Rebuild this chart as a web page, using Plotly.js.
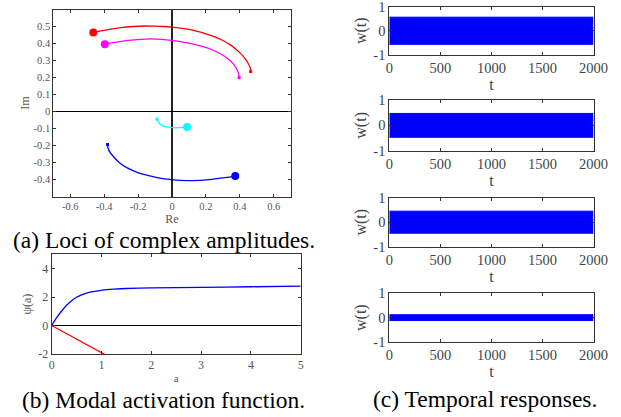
<!DOCTYPE html>
<html>
<head>
<meta charset="utf-8">
<script src="https://cdn.plot.ly/plotly-3.0.1.min.js"></script>
<style>html,body{margin:0;padding:0;background:#fff;}#chart{width:621px;height:417px;}</style>
</head>
<body>
<div id="chart"></div>
<script>
// ---- (a) Loci of complex amplitudes (first point = marker end) ----
const redRe  = [-0.464, -0.42, -0.36, -0.30, -0.23, -0.167, -0.10, -0.05, 0.00, 0.05, 0.10, 0.15, 0.20, 0.25, 0.30, 0.34, 0.377, 0.41, 0.435, 0.452, 0.462, 0.464];
const redIm  = [0.465, 0.474, 0.485, 0.494, 0.500, 0.503, 0.502, 0.500, 0.497, 0.491, 0.483, 0.471, 0.457, 0.441, 0.418, 0.395, 0.367, 0.336, 0.305, 0.278, 0.255, 0.236];
const magRe  = [-0.396, -0.35, -0.30, -0.24, -0.18, -0.128, -0.06, 0.00, 0.06, 0.12, 0.18, 0.24, 0.29, 0.33, 0.36, 0.38, 0.392, 0.396];
const magIm  = [0.396, 0.405, 0.413, 0.420, 0.425, 0.427, 0.425, 0.419, 0.410, 0.398, 0.383, 0.362, 0.337, 0.311, 0.282, 0.253, 0.226, 0.201];
const cyaRe  = [0.089, 0.065, 0.04, 0.015, -0.01, -0.035, -0.055, -0.072, -0.083, -0.089];
const cyaIm  = [-0.090, -0.092, -0.094, -0.095, -0.093, -0.089, -0.082, -0.071, -0.058, -0.043];
const bluRe  = [0.373, 0.30, 0.22, 0.124, 0.05, 0.00, -0.08, -0.167, -0.22, -0.264, -0.31, -0.341, -0.365, -0.377, -0.38];
const bluIm  = [-0.379, -0.390, -0.400, -0.406, -0.404, -0.400, -0.389, -0.369, -0.351, -0.331, -0.300, -0.270, -0.240, -0.215, -0.193];
const lociXTicks = [-0.6, -0.4, -0.2, 0, 0.2, 0.4, 0.6];
const lociXLabels = ['-0.6', '-0.4', '-0.2', '0', '0.2', '0.4', '0.6'];
const lociYTicks = [-0.4, -0.3, -0.2, -0.1, 0, 0.1, 0.2, 0.3, 0.4, 0.5];
const lociYLabels = ['-0.4', '-0.3', '-0.2', '-0.1', '0', '0.1', '0.2', '0.3', '0.4', '0.5'];

// ---- (b) Modal activation function ----
const actA    = [0, 0.1, 0.2, 0.3, 0.4, 0.5, 0.6, 0.7, 0.8, 0.9, 1.0, 1.25, 1.5, 2, 3, 4, 5];
const actPsi  = [0, 0.55, 1.02, 1.42, 1.74, 1.98, 2.15, 2.27, 2.36, 2.42, 2.47, 2.55, 2.60, 2.64, 2.68, 2.72, 2.76];
const lineA   = [0, 1.1];
const linePsi = [0, -2.1];
const actXTicks = [0, 1, 2, 3, 4, 5];
const actYTicks = [-2, 0, 2, 4];
const actYLabels = ['-2', '0', '2', '4'];

// ---- (c) Temporal responses (envelopes of the oscillation) ----
const tEnv = [0, 2000];
const upperEnv = [[0.56, 0.56], [0.47, 0.47], [0.45, 0.45], [0.12, 0.12]];
const lowerEnv = [[-0.56, -0.56], [-0.47, -0.47], [-0.45, -0.45], [-0.12, -0.12]];
const tTicks = [0, 500, 1000, 1500, 2000];
const wTicks = [-1, 0, 1];
const wLabels = ['-1', '0', '1'];

const W = 621, H = 417;
const SERIF = '"Liberation Serif", "Times New Roman", Times, serif';
function xd(a, b) { return [a / W, b / W]; }
function yd(top, bot) { return [1 - bot / H, 1 - top / H]; }

const traces = [];
function loci(re, im, color) {
  traces.push({x: re, y: im, xaxis: 'x', yaxis: 'y', mode: 'lines', line: {color: color, width: 1.3, shape: 'spline', smoothing: 0.6}, hoverinfo: 'skip'});
  traces.push({x: [re[0]], y: [im[0]], xaxis: 'x', yaxis: 'y', mode: 'markers', marker: {color: color, size: 8}, hoverinfo: 'skip'});
  traces.push({x: [re[re.length - 1]], y: [im[im.length - 1]], xaxis: 'x', yaxis: 'y', mode: 'markers', marker: {color: color, size: 3, symbol: 'square'}, hoverinfo: 'skip'});
}
loci(redRe, redIm, '#ff0000');
loci(magRe, magIm, '#ff00ff');
loci(cyaRe, cyaIm, '#00ffff');
loci(bluRe, bluIm, '#0000ff');

traces.push({x: actA, y: actPsi, xaxis: 'x2', yaxis: 'y2', mode: 'lines', line: {color: '#0000ff', width: 1.3, shape: 'spline', smoothing: 0.6}, hoverinfo: 'skip'});
traces.push({x: lineA, y: linePsi, xaxis: 'x2', yaxis: 'y2', mode: 'lines', line: {color: '#ff0000', width: 1.3}, hoverinfo: 'skip'});

for (let i = 0; i < 4; i++) {
  const ax = 'x' + (i + 3), ay = 'y' + (i + 3);
  traces.push({x: tEnv, y: lowerEnv[i], xaxis: ax, yaxis: ay, mode: 'lines', line: {color: '#0000ff', width: 1}, hoverinfo: 'skip'});
  traces.push({x: tEnv, y: upperEnv[i], xaxis: ax, yaxis: ay, mode: 'lines', line: {color: '#0000ff', width: 1}, fill: 'tonexty', fillcolor: '#0000ff', hoverinfo: 'skip'});
}

function axisBase(extra) {
  return Object.assign({
    showgrid: false, zeroline: false, showline: true, linecolor: '#333', linewidth: 1,
    mirror: 'ticks', ticks: 'inside', ticklen: 3, tickcolor: '#333', fixedrange: true,
    ticklabeloverflow: 'allow'
  }, extra);
}

const layout = {
  width: W, height: H,
  margin: {l: 0, r: 0, t: 0, b: 0},
  paper_bgcolor: '#fff', plot_bgcolor: '#fff',
  showlegend: false,
  font: {family: SERIF, color: '#555'},
  xaxis: axisBase({domain: xd(53.3, 290.7), range: [-0.7, 0.7], anchor: 'y',
    tickvals: lociXTicks, ticktext: lociXLabels, tickfont: {family: SERIF, size: 10.5, color: '#555'},
    zeroline: true, zerolinecolor: '#222', zerolinewidth: 1.5,
    title: {text: 'Re', font: {family: SERIF, size: 12, color: '#555'}, standoff: 3}}),
  yaxis: axisBase({domain: yd(9.5, 196.7), range: [-0.5, 0.6], anchor: 'x',
    tickvals: lociYTicks, ticktext: lociYLabels, tickfont: {family: SERIF, size: 10.5, color: '#555'},
    zeroline: true, zerolinecolor: '#000', zerolinewidth: 1.5,
    title: {text: 'Im', font: {family: SERIF, size: 12, color: '#555'}, standoff: 1}}),
  xaxis2: axisBase({domain: xd(51.7, 300.7), range: [0, 5], anchor: 'y2',
    tickvals: actXTicks, tickfont: {family: SERIF, size: 12, color: '#555'},
    title: {text: 'a', font: {family: SERIF, size: 11, color: '#555'}, standoff: 2}}),
  yaxis2: axisBase({domain: yd(254.3, 354), range: [-2, 5], anchor: 'x2',
    tickvals: actYTicks, ticktext: actYLabels, tickfont: {family: SERIF, size: 12, color: '#555'},
    zeroline: true, zerolinecolor: '#000', zerolinewidth: 1.5,
    title: {text: 'ψ(a)', font: {family: SERIF, size: 12, color: '#555'}, standoff: 4}}),
  annotations: [
    {text: '(a) Loci of complex amplitudes.', xref: 'paper', yref: 'paper', x: 163.8 / W, y: 1 - 239.5 / H,
     showarrow: false, xanchor: 'center', yanchor: 'middle', font: {family: SERIF, size: 23.5, color: '#000'}},
    {text: '(b) Modal activation function.', xref: 'paper', yref: 'paper', x: 163.8 / W, y: 1 - 399.5 / H,
     showarrow: false, xanchor: 'center', yanchor: 'middle', font: {family: SERIF, size: 23.5, color: '#000'}},
    {text: '(c) Temporal responses.', xref: 'paper', yref: 'paper', x: 485 / W, y: 1 - 399 / H,
     showarrow: false, xanchor: 'center', yanchor: 'middle', font: {family: SERIF, size: 23.5, color: '#000'}}
  ]
};

const rightTops = [[6.5, 55], [100, 150.7], [197.7, 246.7], [293.3, 342]];
for (let i = 0; i < 4; i++) {
  const n = i + 3;
  layout['xaxis' + n] = axisBase({domain: xd(389.3, 593.5), range: [0, 2000], anchor: 'y' + n,
    tickvals: tTicks, tickfont: {family: SERIF, size: 14.5, color: '#444'},
    title: {text: 't', font: {family: SERIF, size: 16, color: '#444'}, standoff: 3}});
  layout['yaxis' + n] = axisBase({domain: yd(rightTops[i][0], rightTops[i][1]), range: [-1, 1], anchor: 'x' + n,
    tickvals: wTicks, ticktext: wLabels, tickfont: {family: SERIF, size: 14.5, color: '#444'},
    title: {text: 'w(t)', font: {family: SERIF, size: 16, color: '#444'}, standoff: 2}});
}

Plotly.newPlot('chart', traces, layout, {staticPlot: true, displayModeBar: false});
</script>
</body>
</html>
